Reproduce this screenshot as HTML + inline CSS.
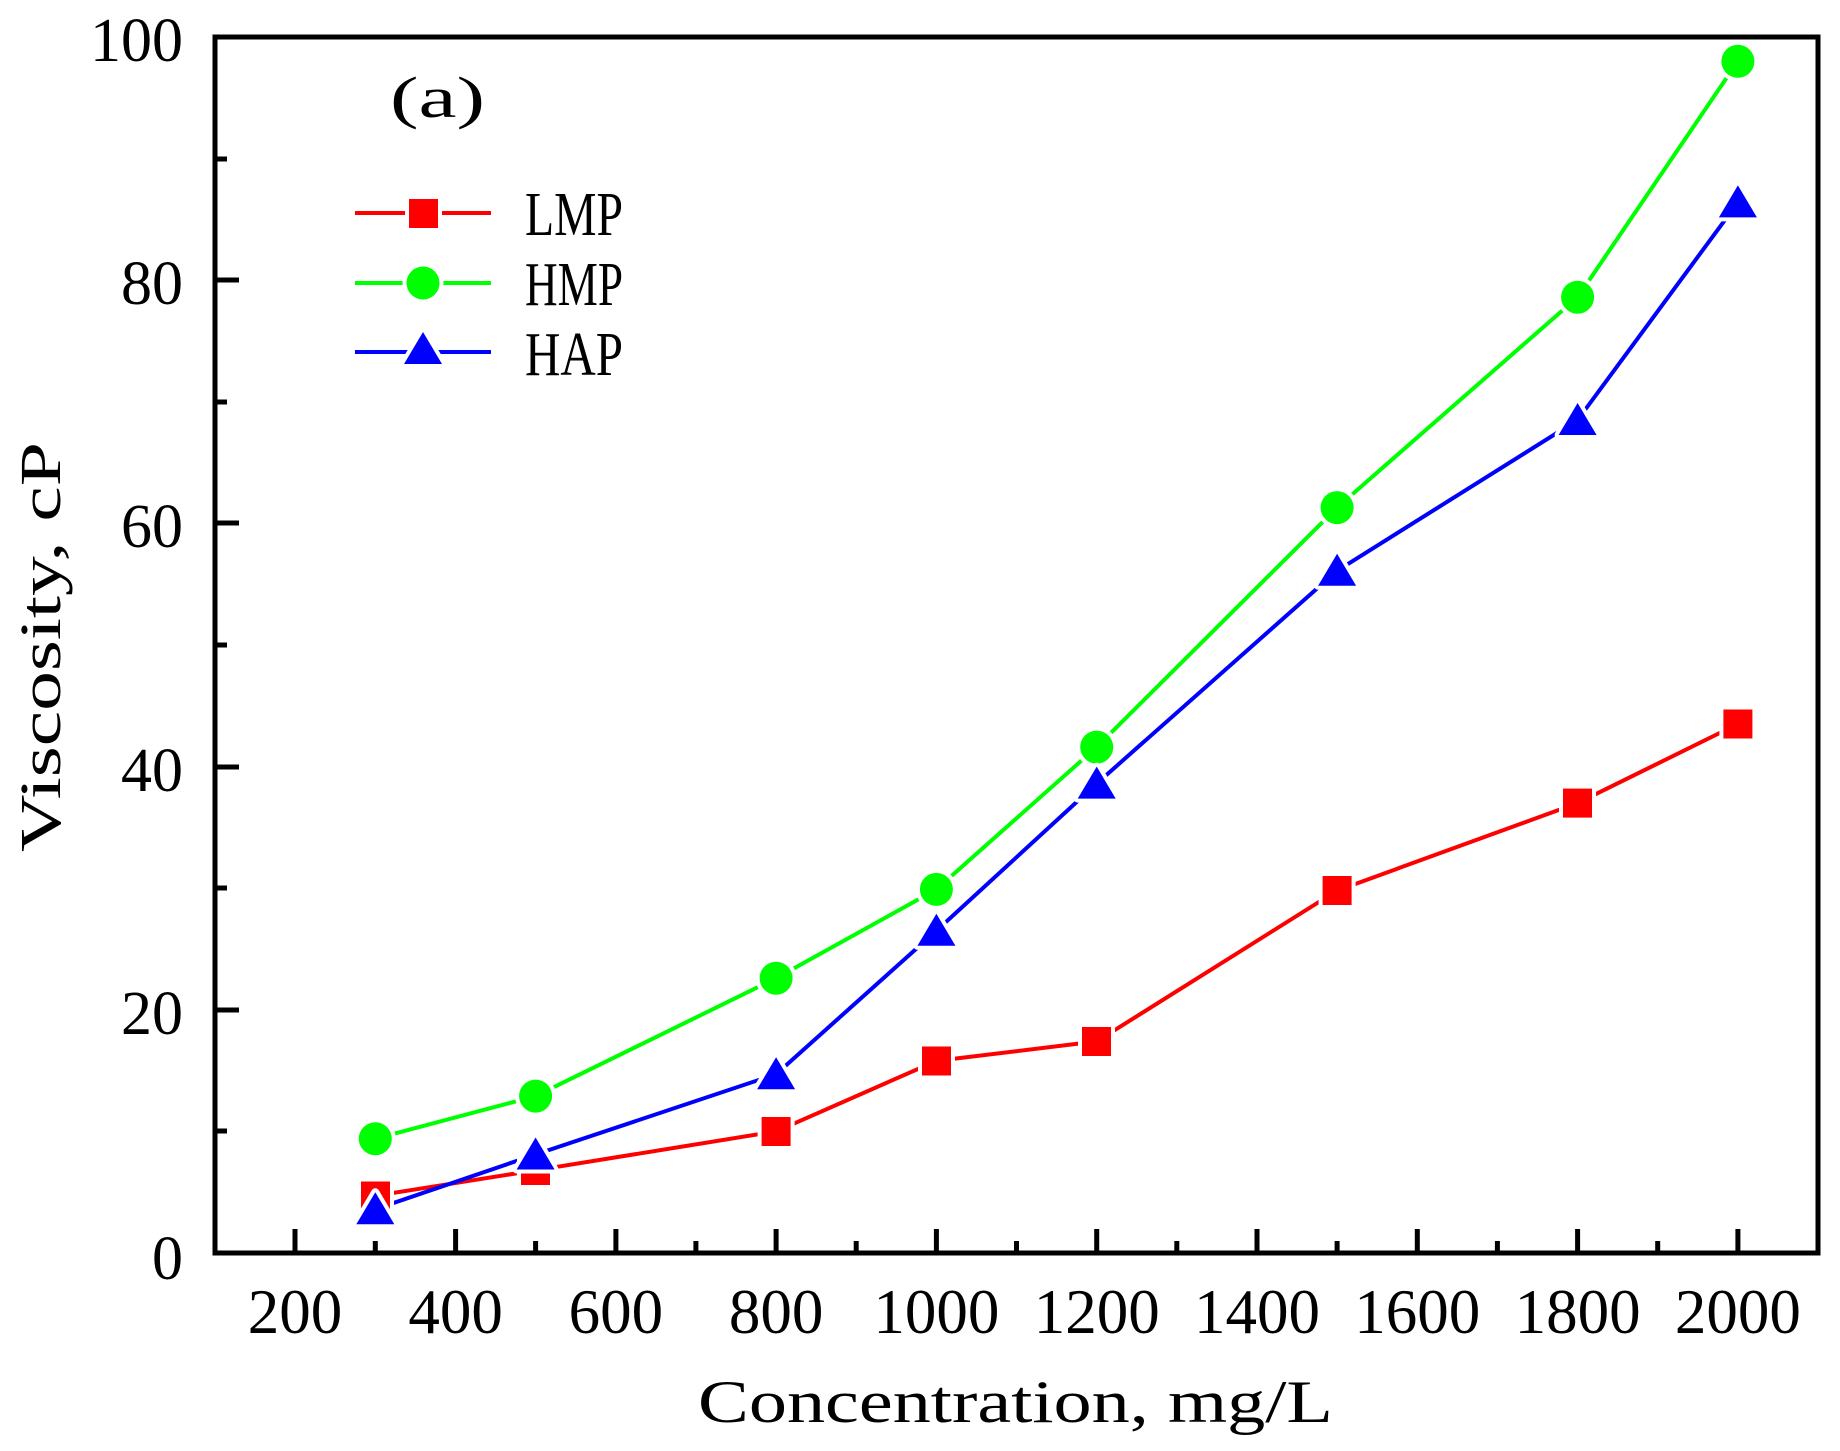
<!DOCTYPE html>
<html><head><meta charset="utf-8"><style>
html,body{margin:0;padding:0;background:#fff;}
svg{display:block;}
text{font-family:"Liberation Serif","Noto Serif CJK SC",serif;fill:#000;}
</style></head><body>
<svg width="1840" height="1451" viewBox="0 0 1840 1451" xmlns="http://www.w3.org/2000/svg">
<rect width="1840" height="1451" fill="#fff"/>
<g stroke="#000" stroke-width="5">
<line x1="215" y1="1010" x2="239" y2="1010"/>
<line x1="215" y1="767" x2="239" y2="767"/>
<line x1="215" y1="523" x2="239" y2="523"/>
<line x1="215" y1="280" x2="239" y2="280"/>
<line x1="215" y1="1131" x2="227" y2="1131"/>
<line x1="215" y1="888" x2="227" y2="888"/>
<line x1="215" y1="645" x2="227" y2="645"/>
<line x1="215" y1="402" x2="227" y2="402"/>
<line x1="215" y1="159" x2="227" y2="159"/>
<line x1="295" y1="1253" x2="295" y2="1229"/>
<line x1="455.6" y1="1253" x2="455.6" y2="1229"/>
<line x1="615.9" y1="1253" x2="615.9" y2="1229"/>
<line x1="776.1" y1="1253" x2="776.1" y2="1229"/>
<line x1="936.4" y1="1253" x2="936.4" y2="1229"/>
<line x1="1096.7" y1="1253" x2="1096.7" y2="1229"/>
<line x1="1257" y1="1253" x2="1257" y2="1229"/>
<line x1="1417.3" y1="1253" x2="1417.3" y2="1229"/>
<line x1="1577.6" y1="1253" x2="1577.6" y2="1229"/>
<line x1="1737.9" y1="1253" x2="1737.9" y2="1229"/>
<line x1="375.3" y1="1253" x2="375.3" y2="1241"/>
<line x1="535.6" y1="1253" x2="535.6" y2="1241"/>
<line x1="695.9" y1="1253" x2="695.9" y2="1241"/>
<line x1="856.2" y1="1253" x2="856.2" y2="1241"/>
<line x1="1016.5" y1="1253" x2="1016.5" y2="1241"/>
<line x1="1176.8" y1="1253" x2="1176.8" y2="1241"/>
<line x1="1337.1" y1="1253" x2="1337.1" y2="1241"/>
<line x1="1497.4" y1="1253" x2="1497.4" y2="1241"/>
<line x1="1657.7" y1="1253" x2="1657.7" y2="1241"/>
</g>
<rect x="215" y="37" width="1603" height="1216" fill="none" stroke="#000" stroke-width="5"/>
<g font-size="62" text-anchor="end">
<text x="183" y="1279">0</text>
<text x="183" y="1034">20</text>
<text x="183" y="791">40</text>
<text x="183" y="547">60</text>
<text x="183" y="304">80</text>
<text x="183" y="61">100</text>
</g>
<g font-size="63" text-anchor="middle">
<text x="295" y="1333">200</text>
<text x="455.6" y="1333">400</text>
<text x="615.9" y="1333">600</text>
<text x="776.1" y="1333">800</text>
<text x="936.4" y="1333">1000</text>
<text x="1096.7" y="1333">1200</text>
<text x="1257" y="1333">1400</text>
<text x="1417.3" y="1333">1600</text>
<text x="1577.6" y="1333">1800</text>
<text x="1737.9" y="1333">2000</text>
</g>
<text x="698" y="1422" font-size="60" textLength="635" lengthAdjust="spacingAndGlyphs">Concentration, mg/L</text>
<text transform="translate(60,852) rotate(-90)" font-size="58" textLength="410" lengthAdjust="spacingAndGlyphs">Viscosity, cP</text>
<text x="390" y="117" font-size="58" textLength="95" lengthAdjust="spacingAndGlyphs">(a)</text>
<g fill="none" stroke-width="4" stroke-linejoin="round">
<polyline stroke="#ff0000" points="375.3,1195.8 535.6,1170.3 776.1,1131.4 936.4,1060.9 1096.7,1041.4 1337.1,890.6 1577.6,803.1 1737.9,724"/>
<polyline stroke="#00ff00" points="375.3,1138.7 535.6,1096.1 776.1,978.2 936.4,889.4 1096.7,747.1 1337.1,507.6 1577.6,297.2 1737.9,61.3"/>
<polyline stroke="#0000ff" points="375.3,1209.2 535.6,1154.5 776.1,1074.2 936.4,930.8 1096.7,783.6 1337.1,570.8 1577.6,420 1737.9,202.4"/>
</g>
<g fill="#ff0000" stroke="#fff" stroke-width="8" paint-order="stroke">
<rect x="361" y="1181.5" width="29" height="29"/>
<rect x="521" y="1156" width="29" height="29"/>
<rect x="761.6" y="1117" width="29" height="29"/>
<rect x="922" y="1046.5" width="29" height="29"/>
<rect x="1082" y="1027" width="29" height="29"/>
<rect x="1322.6" y="876" width="29" height="29"/>
<rect x="1563" y="788.6" width="29" height="29"/>
<rect x="1723.4" y="709.5" width="29" height="29"/>
</g>
<g fill="#00ff00" stroke="#fff" stroke-width="8" paint-order="stroke">
<circle cx="375.3" cy="1138.7" r="16.5"/>
<circle cx="535.6" cy="1096.1" r="16.5"/>
<circle cx="776.1" cy="978.2" r="16.5"/>
<circle cx="936.4" cy="889.4" r="16.5"/>
<circle cx="1096.7" cy="747.1" r="16.5"/>
<circle cx="1337.1" cy="507.6" r="16.5"/>
<circle cx="1577.6" cy="297.2" r="16.5"/>
<circle cx="1737.9" cy="61.3" r="16.5"/>
</g>
<g fill="#0000ff" stroke="#fff" stroke-width="8" paint-order="stroke" stroke-linejoin="round">
<polygon points="375.3,1192.2 356.3,1224.2 394.3,1224.2"/>
<polygon points="535.6,1137.5 516.6,1169.5 554.6,1169.5"/>
<polygon points="776.1,1057.2 757.1,1089.2 795.1,1089.2"/>
<polygon points="936.4,913.8 917.4,945.8 955.4,945.8"/>
<polygon points="1096.7,766.6 1077.7,798.6 1115.7,798.6"/>
<polygon points="1337.1,553.8 1318.1,585.8 1356.1,585.8"/>
<polygon points="1577.6,403 1558.6,435 1596.6,435"/>
<polygon points="1737.9,185.4 1718.9,217.4 1756.9,217.4"/>
</g>
<g stroke-width="4">
<line x1="355" y1="213" x2="491" y2="213" stroke="#ff0000"/>
<line x1="355" y1="283" x2="491" y2="283" stroke="#00ff00"/>
<line x1="355" y1="352" x2="491" y2="352" stroke="#0000ff"/>
</g>
<rect x="409" y="199" width="29" height="29" fill="#ff0000" stroke="#fff" stroke-width="8" paint-order="stroke"/>
<circle cx="423" cy="283" r="16.5" fill="#00ff00" stroke="#fff" stroke-width="8" paint-order="stroke"/>
<polygon points="423,332 404,364 442,364" fill="#0000ff" stroke="#fff" stroke-width="8" paint-order="stroke"/>
<g font-size="62">
<text x="525" y="235" textLength="98" lengthAdjust="spacingAndGlyphs">LMP</text>
<text x="525" y="305" textLength="98" lengthAdjust="spacingAndGlyphs">HMP</text>
<text x="525" y="375" textLength="98" lengthAdjust="spacingAndGlyphs">HAP</text>
</g>
</svg>
</body></html>
